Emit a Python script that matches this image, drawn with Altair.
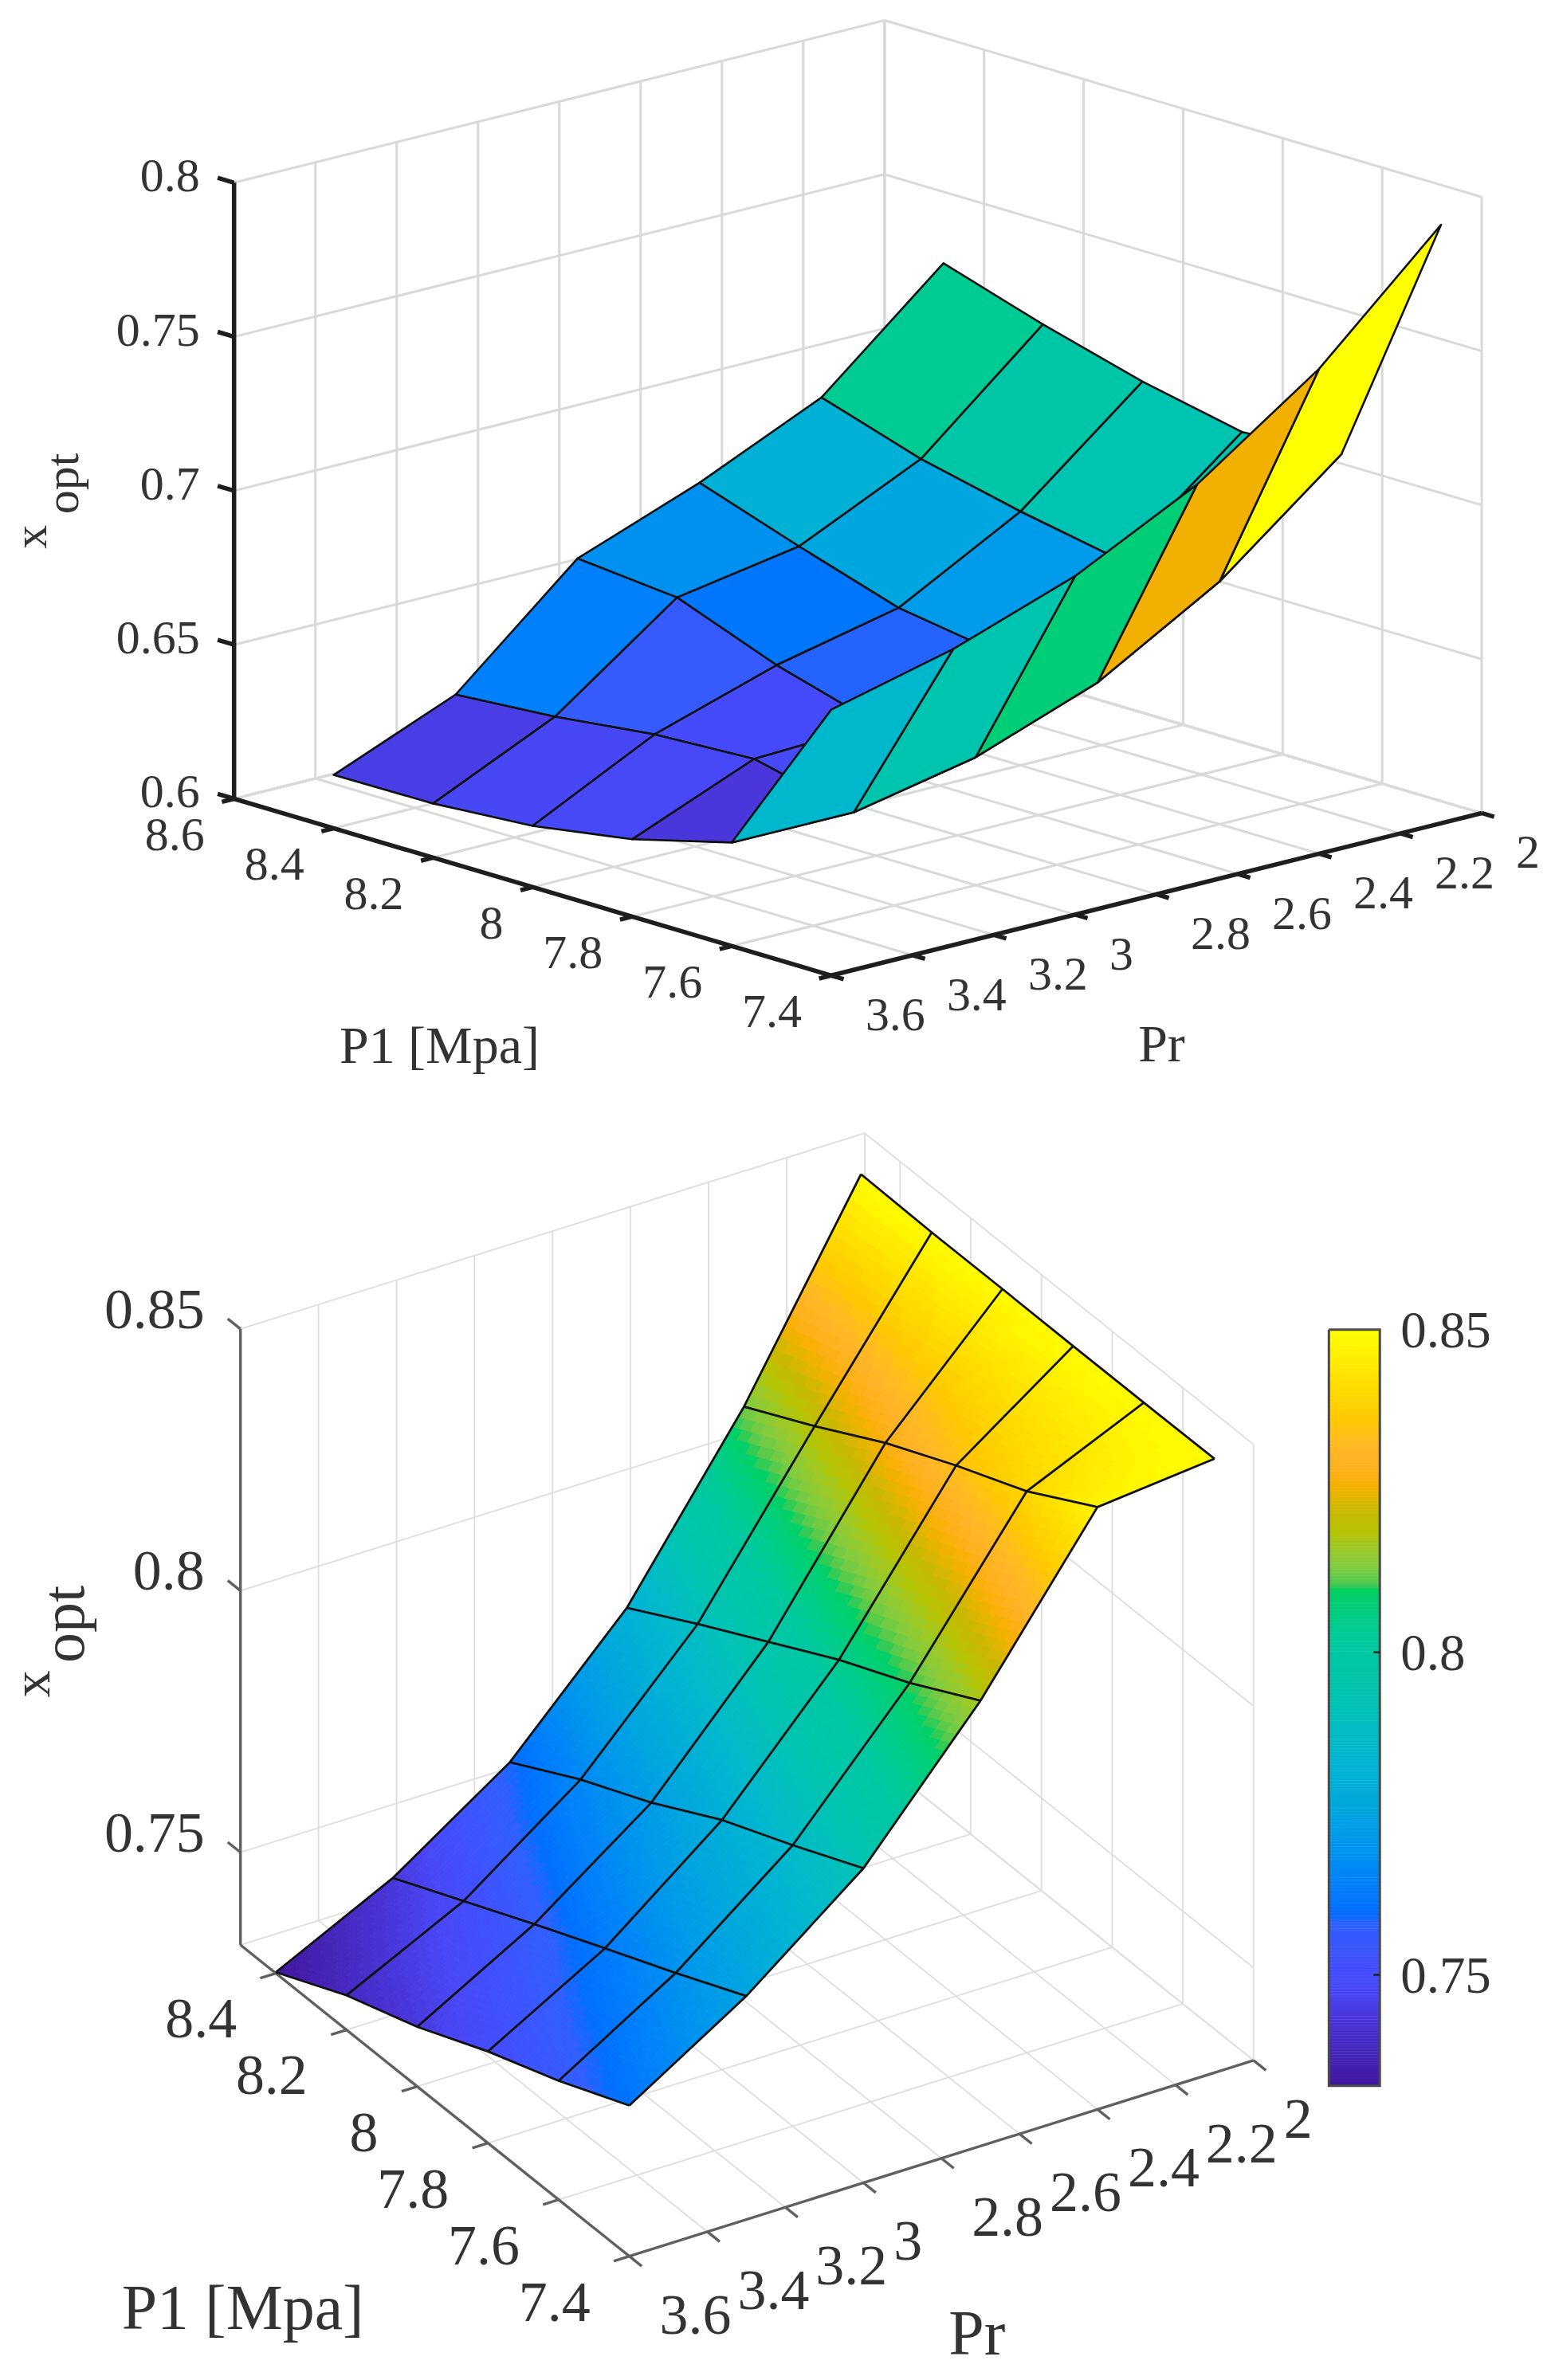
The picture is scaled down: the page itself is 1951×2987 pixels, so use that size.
import altair as alt
import pandas as pd

FONT = "Liberation Serif"
P1_GRID = [8.4, 8.2, 8.0, 7.8, 7.6, 7.4]
PR_GRID = [3.6, 3.3, 3.0, 2.7, 2.4, 2.1]

# xopt: one row per Pr, one column per P1
XOPT_TOP = [
    [0.6173, 0.6176, 0.6199, 0.6251, 0.6336, 0.6863],
    [0.6335, 0.6359, 0.6397, 0.6413, 0.6335, 0.6961],
    [0.6678, 0.6647, 0.6523, 0.6428, 0.6415, 0.7099],
    [0.6825, 0.6714, 0.6610, 0.6559, 0.6559, 0.7298],
    [0.7003, 0.6899, 0.6824, 0.6762, 0.6788, 0.7574],
    [0.7340, 0.7237, 0.7147, 0.7079, 0.7103, 0.7943],
]
XOPT_BOTTOM = [
    [0.7325, 0.7389, 0.7437, 0.7498, 0.7550, 0.7611],
    [0.7435, 0.7499, 0.7563, 0.7625, 0.7686, 0.7750],
    [0.7586, 0.7661, 0.7725, 0.7800, 0.7860, 0.7924],
    [0.7811, 0.7888, 0.7962, 0.8036, 0.8100, 0.8174],
    [0.8125, 0.8196, 0.8272, 0.8337, 0.8396, 0.8474],
    [0.8499, 0.8496, 0.8496, 0.8495, 0.8495, 0.8496],
]
P1_TICKS_TOP = [8.6, 8.4, 8.2, 8.0, 7.8, 7.6, 7.4]
P1_LABELS_TOP = ["8.6", "8.4", "8.2", "8", "7.8", "7.6", "7.4"]
P1_TICKS_BOTTOM = [8.4, 8.2, 8.0, 7.8, 7.6, 7.4]
P1_LABELS_BOTTOM = ["8.4", "8.2", "8", "7.8", "7.6", "7.4"]
PR_TICKS = [3.6, 3.4, 3.2, 3.0, 2.8, 2.6, 2.4, 2.2, 2.0]
PR_LABELS = ["3.6", "3.4", "3.2", "3", "2.8", "2.6", "2.4", "2.2", "2"]
Z_TICKS_TOP = [0.6, 0.65, 0.7, 0.75, 0.8]
Z_LABELS_TOP = ["0.6", "0.65", "0.7", "0.75", "0.8"]
Z_TICKS_BOTTOM = [0.75, 0.8, 0.85]
Z_LABELS_BOTTOM = ["0.75", "0.8", "0.85"]

T_STOPS = [0, .0758, .1284, .1642, .2137, .222, .2337, .304, .3747, .4442, .5147, .581,
           .657, .662, .6863, .7326, .76, .7958, .8337, .88, .9326, 1]
C_STOPS = ["#40189F", "#4830D0", "#4848F8", "#4050FF", "#3060FF", "#1068FF", "#0070FF", "#0090F0",
           "#00A8DC", "#00B8CC", "#00C4B0", "#00C8A0", "#00D060", "#40C850", "#80CC40", "#B4C400",
           "#C8B800", "#F8B000", "#FFB428", "#FFC800", "#FFE000", "#FFFF00"]
TOP_C = (0.6175, 0.7943)
BOTTOM_C = (0.7328, 0.85)
fill_scale = alt.Scale(domain=T_STOPS, range=C_STOPS)


def projector(o, p1max, pdx, pdy, prx, pry, zmin, zs):
    def f(p1, pr, z):
        u, v = p1max - p1, 3.6 - pr
        return o[0] + pdx * u + prx * v, o[1] + pdy * u + pry * v - zs * (z - zmin)
    return f


def rows(pts, gid, **extra):
    return [dict(x=p[0], y=p[1], g=gid, o=i, **extra) for i, p in enumerate(pts)]


def box_lines(f, p1max, zmin, zmax, p1t, zt):
    out, n = [], 0
    def add(a, b):
        nonlocal n
        out.extend(rows([f(*a), f(*b)], n)); n += 1
    for pr in PR_TICKS:
        add((p1max, pr, zmin), (p1max, pr, zmax))
        add((p1max, pr, zmin), (7.4, pr, zmin))
    for p in p1t:
        add((p, 2, zmin), (p, 2, zmax))
        add((p, 3.6, zmin), (p, 2, zmin))
    add((p1max, 2, zmin), (p1max, 2, zmax))
    add((p1max, 3.6, zmin), (p1max, 3.6, zmax))
    add((p1max, 3.6, zmin), (p1max, 2, zmin))
    add((p1max, 2, zmin), (7.4, 2, zmin))
    for z in zt:
        add((p1max, 3.6, z), (p1max, 2, z))
        add((p1max, 2, z), (7.4, 2, z))
    return out


def axis_lines(f, p1max, zmin, zmax, p1t, zt, tz, tp, tr):
    out, n = [], 0
    def add(a, b):
        nonlocal n
        out.extend(rows([f(*a), f(*b)], n)); n += 1
    add((p1max, 3.6, zmin), (p1max, 3.6, zmax))
    add((p1max, 3.6, zmin), (7.4, 3.6, zmin))
    add((7.4, 3.6, zmin), (7.4, 2, zmin))
    for z in zt:
        add((p1max, 3.6, z), (p1max + tz, 3.6, z))
    for p in p1t:
        add((p, 3.6, zmin), (p, 3.6 + tp, zmin))
    for pr in PR_TICKS:
        add((7.4, pr, zmin), (7.4 - tr, pr, zmin))
    return out


def layer_lines(data, xe, ye, color, width):
    return alt.Chart(pd.DataFrame(data)).mark_line(color=color, strokeWidth=width, strokeCap="butt").encode(
        x=xe, y=ye, detail="g:N", order="o:Q")


def labels(data, xe, ye, size, align, dx, dy, angle=0):
    return alt.Chart(pd.DataFrame(data)).mark_text(
        font=FONT, fontSize=size, align=align, baseline="middle", color="#333333",
        dx=dx, dy=dy, angle=angle).encode(x=xe, y=ye, text="s:N")


def txt(f, pts, strs):
    return [dict(x=f(*p)[0], y=f(*p)[1], s=s) for p, s in zip(pts, strs)]


W = 1935
X_DOM = [8, 1943]
x_enc = alt.X("x:Q", scale=alt.Scale(domain=X_DOM, nice=False, zero=False), axis=None)


def y_enc(dom):
    return alt.Y("y:Q", scale=alt.Scale(domain=dom, nice=False, zero=False), axis=None)


def title_rows(items):
    return [dict(x=a, y=b, s=s) for a, b, s in items]


# ---------- top panel (flat shading) ----------
ft = projector((292, 1002), 8.6, 625, 185, 510.6, -127.5, 0.6, 3870)
yt = y_enc([1400, 8])
poly_top, pid = [], 0
for i in range(5):                                      # P1 columns, back to front
    for j in range(4, -1, -1):                          # Pr rows, back to front
        val = XOPT_TOP[j + 1][i + 1]
        t = (val - TOP_C[0]) / (TOP_C[1] - TOP_C[0])
        corners = [(i, j), (i + 1, j), (i + 1, j + 1), (i, j + 1)]
        pts = [ft(P1_GRID[a], PR_GRID[b], XOPT_TOP[b][a]) for a, b in corners]
        poly_top.extend(rows(pts, pid, t=t)); pid += 1

surface_top = alt.Chart(pd.DataFrame(poly_top)).mark_line(
    interpolate="linear-closed", stroke="#101010", strokeWidth=2.6, strokeJoin="round").encode(
    x=x_enc, y=yt, detail="g:Q", order="o:Q",
    fill=alt.Fill("t:Q", scale=fill_scale, legend=None))

top = alt.layer(
    layer_lines(box_lines(ft, 8.6, 0.6, 0.8, P1_TICKS_TOP, Z_TICKS_TOP), x_enc, yt, "#D9D9D9", 3),
    layer_lines(axis_lines(ft, 8.6, 0.6, 0.8, P1_TICKS_TOP, Z_TICKS_TOP, .033, .03, .025), x_enc, yt, "#1E1E1E", 5.5),
    surface_top,
    labels(txt(ft, [(8.6, 3.6, z) for z in Z_TICKS_TOP], Z_LABELS_TOP), x_enc, yt, 60, "right", -43, -7),
    labels(txt(ft, [(p, 3.6, .6) for p in P1_TICKS_TOP], P1_LABELS_TOP), x_enc, yt, 60, "right", -37, 47),
    labels(txt(ft, [(7.4, p, .6) for p in PR_TICKS], PR_LABELS), x_enc, yt, 60, "left", 43, 51),
    labels(title_rows([(550, 1314, "P1 [Mpa]")]), x_enc, yt, 66, "center", 0, 0),
    labels(title_rows([(1457, 1312, "Pr")]), x_enc, yt, 66, "center", 0, 0),
    labels(title_rows([(38, 673, "x")]), x_enc, yt, 60, "center", 0, 0, 270),
    labels(title_rows([(78, 606, "opt")]), x_enc, yt, 60, "center", 0, 0, 270),
).properties(width=W, height=1392)

# ---------- bottom panel (interpolated shading) ----------
fb = projector((300, 2442), 8.5, 444, 355.5, 490, -153.75, 0.7323, 6575)
yb = y_enc([2979, 1400])
SUB = 20
shade, pid = [], 0
for i in range(5):
    for j in range(5):
        def pt(a, b):
            zz = ((1 - a) * (1 - b) * XOPT_BOTTOM[j][i] + a * (1 - b) * XOPT_BOTTOM[j][i + 1]
                  + (1 - a) * b * XOPT_BOTTOM[j + 1][i] + a * b * XOPT_BOTTOM[j + 1][i + 1])
            return (P1_GRID[i] + a * (P1_GRID[i + 1] - P1_GRID[i]),
                    PR_GRID[j] + b * (PR_GRID[j + 1] - PR_GRID[j]), zz)
        for m in range(SUB):
            for k in range(SUB):
                a0, a1, b0, b1 = m / SUB, (m + 1) / SUB, k / SUB, (k + 1) / SUB
                zc = pt((a0 + a1) / 2, (b0 + b1) / 2)[2]
                t = min(1, max(0, (zc - BOTTOM_C[0]) / (BOTTOM_C[1] - BOTTOM_C[0])))
                pts = [fb(*pt(a0, b0)), fb(*pt(a1, b0)), fb(*pt(a1, b1)), fb(*pt(a0, b1))]
                shade.extend(rows(pts, pid, t=round(t, 4)))
                pid += 1

surface_bottom = alt.Chart(pd.DataFrame(shade).round(2)).mark_line(
    interpolate="linear-closed", strokeWidth=1).encode(
    x=x_enc, y=yb, detail="g:Q", order="o:Q",
    fill=alt.Fill("t:Q", scale=fill_scale, legend=None),
    stroke=alt.Stroke("t:Q", scale=fill_scale, legend=None))

mesh, gid = [], 0
for j in range(6):
    mesh.extend(rows([fb(P1_GRID[i], PR_GRID[j], XOPT_BOTTOM[j][i]) for i in range(6)], gid)); gid += 1
for i in range(6):
    mesh.extend(rows([fb(P1_GRID[i], PR_GRID[j], XOPT_BOTTOM[j][i]) for j in range(6)], gid)); gid += 1

# colour bar: value -> pixel through the bar's own ends
CB_LEFT, CB_RIGHT, CB_TOP, CB_BOTTOM = 1667, 1731, 1669, 2619
CB_LEVELS = 240
def cb_y(z):
    return CB_TOP + (0.85 - z) * (CB_BOTTOM - CB_TOP) / (0.85 - 0.7328)
cb = []
for n in range(CB_LEVELS):
    t0, t1 = n / CB_LEVELS, (n + 1) / CB_LEVELS
    z0 = BOTTOM_C[0] + t0 * (BOTTOM_C[1] - BOTTOM_C[0])
    z1 = BOTTOM_C[0] + t1 * (BOTTOM_C[1] - BOTTOM_C[0])
    cb.append(dict(x=CB_LEFT, x2=CB_RIGHT, y=cb_y(z0), y2=cb_y(z1), t=(t0 + t1) / 2))
colorbar = alt.Chart(pd.DataFrame(cb)).mark_rect(strokeWidth=0.6).encode(
    x=x_enc, x2="x2:Q", y=yb, y2="y2:Q",
    fill=alt.Fill("t:Q", scale=fill_scale, legend=None),
    stroke=alt.Stroke("t:Q", scale=fill_scale, legend=None))
cb_frame = rows([(CB_LEFT, CB_TOP), (CB_RIGHT, CB_TOP), (CB_RIGHT, CB_BOTTOM), (CB_LEFT, CB_BOTTOM), (CB_LEFT, CB_TOP)], 0)
cb_ticks = []
for n, z in enumerate(Z_TICKS_BOTTOM[:2]):
    cb_ticks.extend(rows([(CB_RIGHT - 8, cb_y(z)), (CB_RIGHT, cb_y(z))], n))

bottom = alt.layer(
    layer_lines(box_lines(fb, 8.5, 0.7323, 0.85, P1_TICKS_BOTTOM, Z_TICKS_BOTTOM), x_enc, yb, "#DDDDDD", 1.8),
    layer_lines(axis_lines(fb, 8.5, 0.7323, 0.85, P1_TICKS_BOTTOM, Z_TICKS_BOTTOM, .036, .04, .035), x_enc, yb, "#606060", 3.4),
    surface_bottom,
    layer_lines(mesh, x_enc, yb, "#101010", 2.8),
    colorbar,
    layer_lines(cb_frame, x_enc, yb, "#4A4A4A", 3),
    layer_lines(cb_ticks, x_enc, yb, "#222222", 2.5),
    labels(txt(fb, [(8.5, 3.6, z) for z in Z_TICKS_BOTTOM], Z_LABELS_BOTTOM), x_enc, yb, 72, "right", -45, -23),
    labels(txt(fb, [(p, 3.6, .7323) for p in P1_TICKS_BOTTOM], P1_LABELS_BOTTOM), x_enc, yb, 72, "right", -49, 59),
    labels(txt(fb, [(7.4, p, .7323) for p in PR_TICKS], PR_LABELS), x_enc, yb, 72, "left", 38, 75),
    labels([dict(x=1757, y=cb_y(z), s=s) for z, s in zip(Z_TICKS_BOTTOM, Z_LABELS_BOTTOM)], x_enc, yb, 65, "left", 0, 2),
    labels(title_rows([(303, 2900, "P1 [Mpa]")]), x_enc, yb, 80, "center", 0, 0),
    labels(title_rows([(1225, 2933, "Pr")]), x_enc, yb, 80, "center", 0, 0),
    labels(title_rows([(40, 2114, "x")]), x_enc, yb, 68, "center", 0, 0, 270),
    labels(title_rows([(80, 2039, "opt")]), x_enc, yb, 76, "center", 0, 0, 270),
).properties(width=W, height=1579)

chart = alt.vconcat(top, bottom, spacing=0).properties(padding=0).configure_view(stroke=None)
alt.data_transformers.disable_max_rows()
chart.save("out.html", embed_options={"renderer": "svg", "actions": False})
